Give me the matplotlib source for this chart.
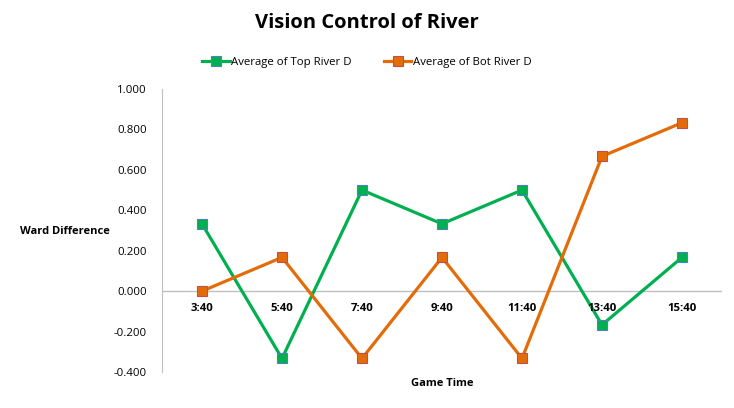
import matplotlib
matplotlib.use("Agg")
import matplotlib.pyplot as plt
from matplotlib.ticker import FormatStrFormatter

categories = ["3:40", "5:40", "7:40", "9:40", "11:40", "13:40", "15:40"]
top_river = [0.333, -0.333, 0.5, 0.333, 0.5, -0.167, 0.167]
bot_river = [0.0, 0.167, -0.333, 0.167, -0.333, 0.667, 0.833]

plt.rcParams['font.family'] = ['Open Sans', 'DejaVu Sans']

fig = plt.figure(figsize=(7.34, 4.08), dpi=100)
ax = fig.add_axes([162/734, 36/408, 560/734, 283/408])

x = list(range(len(categories)))
ax.plot(x, top_river, color="#00B050", lw=2.3, marker="s", ms=6.5,
        markerfacecolor="#00B050", markeredgecolor="#4F81BD", mew=0.8,
        label="Average of Top River D")
ax.plot(x, bot_river, color="#E36C09", lw=2.3, marker="s", ms=6.5,
        markerfacecolor="#E36C09", markeredgecolor="#C0504D", mew=0.8,
        label="Average of Bot River D")

ax.set_xlim(-0.5, len(categories) - 0.5)
ax.set_ylim(-0.4, 1.0)
ax.set_yticks([-0.4, -0.2, 0, 0.2, 0.4, 0.6, 0.8, 1.0])
ax.yaxis.set_major_formatter(FormatStrFormatter('%.3f'))
ax.set_xticks(x)
ax.set_xticklabels([])
ax.tick_params(axis='both', length=0, labelsize=8.2)
ax.tick_params(axis='y', pad=11)
for s in ['top', 'right', 'bottom']:
    ax.spines[s].set_visible(False)
ax.spines['left'].set_color('#BFBFBF')
ax.axhline(0, color='#BFBFBF', lw=1, zorder=0)

# category labels placed just below the zero line
for xi, c in zip(x, categories):
    ax.annotate(c, (xi, 0), xytext=(0, -12.5), textcoords='offset points',
                ha='center', va='center', fontsize=8.2, fontweight='bold')

fig.text(0.5, 1 - 23/408, "Vision Control of River", ha='center', va='center',
         fontsize=14.5, fontweight='bold')
fig.text(20/734, 1 - 232/408, "Ward Difference", ha='left', va='center',
         fontsize=8, fontweight='bold')
fig.text(442/734, 1 - 383/408, "Game Time", ha='center', va='center',
         fontsize=8, fontweight='bold')

fig.legend(loc='center', bbox_to_anchor=(0.5, 1 - 62/408), ncol=2, frameon=False,
           fontsize=8.2, handlelength=2.4, columnspacing=2.8, handletextpad=0.15)

fig.savefig("out.png", dpi=100)
